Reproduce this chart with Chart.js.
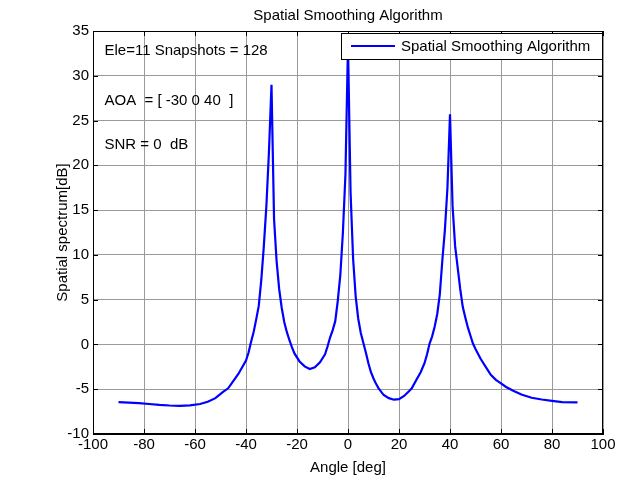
<!DOCTYPE html>
<html>
<head>
<meta charset="utf-8" />
<title>Spatial Smoothing Algorithm</title>
<script src="https://cdn.jsdelivr.net/npm/chart.js@4.4.0/dist/chart.umd.min.js"></script>
<style>
  html, body { margin: 0; padding: 0; background: #fff; }
  #wrap { width: 626px; height: 480px; }
</style>
</head>
<body>
<div id="wrap"><canvas id="spectrum" width="626" height="480"></canvas></div>
<script>
// angle grid (deg) and spectrum (dB)
var angles = [-90, -86, -82, -78, -74, -70, -66, -62, -58, -55, -52, -49, -47, -45, -43, -41, -40, -39, -38, -37,
  -36, -35, -34, -33, -32, -31, -30, -29, -28, -27, -26, -25, -24, -23, -22, -21, -19, -17, -15, -13,
  -11, -9, -8, -7, -6, -5, -4, -3, -2, -1, 0, 1, 2, 3, 4, 5, 6, 7, 8, 9,
  10, 11, 12, 14, 16, 18, 20, 22, 24, 25, 27, 28.5, 30, 31, 32, 33, 34, 35, 36, 37,
  38, 39, 40, 41, 42, 43, 44, 45, 46, 47, 48, 49, 50, 52, 54, 56, 58, 60, 62, 65,
  68, 72, 76, 80, 84, 90];
var spectrum = [-6.45, -6.5, -6.55, -6.65, -6.75, -6.82, -6.85, -6.8, -6.65, -6.4, -6.0, -5.3, -4.9, -4.1, -3.3, -2.3, -1.8, -0.9, 0.3, 1.4,
  2.8, 4.3, 7.2, 11, 15.5, 21.5, 29.0, 14, 9.3, 6.2, 4.1, 2.5, 1.4, 0.5, -0.3, -1.0, -1.9, -2.45, -2.75, -2.55,
  -2.0, -1.1, -0.2, 0.8, 1.6, 2.6, 4.9, 7.8, 12.5, 19, 33.5, 17, 9.6, 5.4, 2.9, 1.3, 0.2, -0.9, -2.1, -3.1,
  -3.8, -4.4, -4.9, -5.65, -6.0, -6.17, -6.1, -5.75, -5.2, -4.9, -3.85, -3.1, -2.1, -1.1, 0.1, 0.9, 2.0, 3.4, 5.6, 9.4,
  12.8, 17.5, 25.7, 15.5, 11, 8.6, 6.2, 4.2, 3.0, 1.9, 1.0, 0.1, -0.5, -1.6, -2.5, -3.4, -3.95, -4.35, -4.75, -5.2,
  -5.6, -5.95, -6.15, -6.3, -6.45, -6.47];

var xTicks = [-100, -80, -60, -40, -20, 0, 20, 40, 60, 80, 100];
var yTicks = [-10, -5, 0, 5, 10, 15, 20, 25, 30, 35];

var seriesName = "Spatial Smoothing Algorithm";
var notes = [
  { text: "Ele=11 Snapshots = 128", x: -95.5, y: 32.8 },
  { text: "AOA  = [ -30 0 40  ]", x: -95.5, y: 27.2 },
  { text: "SNR = 0  dB", x: -95.5, y: 22.3 }
];

var FONT = "'Liberation Sans', Arial, sans-serif";
var points = [];
for (var i = 0; i < angles.length; i++) {
  points.push({ x: angles[i], y: spectrum[i] });
}

// box, inward ticks, text notes and legend drawn on top like matlab does
var matlabBox = {
  id: "matlabBox",
  afterDraw: function (chart) {
    var ctx = chart.ctx;
    var a = chart.chartArea;
    var xs = chart.scales.x, ys = chart.scales.y;
    ctx.save();

    ctx.fillStyle = "#000";
    ctx.font = "15px " + FONT;
    ctx.textAlign = "left";
    ctx.textBaseline = "middle";
    notes.forEach(function (n) {
      ctx.fillText(n.text, xs.getPixelForValue(n.x), ys.getPixelForValue(n.y));
    });

    ctx.strokeStyle = "#000";
    ctx.lineWidth = 1;
    ctx.beginPath();
    xTicks.forEach(function (v) {
      var px = Math.round(xs.getPixelForValue(v)) + 0.5;
      ctx.moveTo(px, a.bottom); ctx.lineTo(px, a.bottom - 5);
      ctx.moveTo(px, a.top); ctx.lineTo(px, a.top + 5);
    });
    yTicks.forEach(function (v) {
      var py = Math.round(ys.getPixelForValue(v)) + 0.5;
      ctx.moveTo(a.left, py); ctx.lineTo(a.left + 5, py);
      ctx.moveTo(a.right, py); ctx.lineTo(a.right - 5, py);
    });
    ctx.stroke();
    ctx.strokeRect(Math.round(a.left) + 0.5, Math.round(a.top) + 0.5,
      Math.round(a.right - a.left) - 1, Math.round(a.bottom - a.top) - 1);

    // legend
    var lx = 341, ly = 33, lw = 261, lh = 26;
    ctx.fillStyle = "#fff";
    ctx.fillRect(lx, ly, lw, lh);
    ctx.strokeRect(lx + 0.5, ly + 0.5, lw, lh);
    ctx.strokeStyle = "#0000ff";
    ctx.lineWidth = 2.2;
    ctx.beginPath();
    ctx.moveTo(351, ly + 13); ctx.lineTo(395, ly + 13);
    ctx.stroke();
    ctx.fillStyle = "#000";
    ctx.font = "15px " + FONT;
    ctx.fillText(seriesName, 401, ly + 14);
    ctx.restore();
  }
};

var ctx = document.getElementById("spectrum").getContext("2d");
var chart = new Chart(ctx, {
  type: "line",
  data: {
    datasets: [{
      label: seriesName,
      data: points,
      borderColor: "#0000ff",
      backgroundColor: "#0000ff",
      borderWidth: 2.2,
      pointRadius: 0,
      tension: 0,
      fill: false
    }]
  },
  options: {
    responsive: false,
    animation: false,
    layout: { padding: { left: 48, right: 23, top: 0, bottom: 0 } },
    plugins: {
      legend: { display: false },
      tooltip: { enabled: false },
      title: {
        display: true,
        fullSize: false,
        text: "Spatial Smoothing Algorithm",
        color: "#000",
        font: { family: FONT, size: 15, weight: "normal" },
        padding: { top: 7, bottom: 6 }
      }
    },
    scales: {
      x: {
        type: "linear",
        min: -100,
        max: 100,
        afterBuildTicks: function (s) { s.ticks = xTicks.map(function (v) { return { value: v }; }); },
        afterFit: function (s) { s.height = 46; },
        ticks: { color: "#000", padding: 2, font: { family: FONT, size: 15 }, maxRotation: 0 },
        grid: { color: "#9a9a9a", lineWidth: 1, drawTicks: false },
        border: { color: "#000" },
        title: {
          display: true,
          text: "Angle [deg]",
          color: "#000",
          font: { family: FONT, size: 15 },
          padding: { top: 0, bottom: 3 }
        }
      },
      y: {
        type: "linear",
        min: -10,
        max: 35,
        afterBuildTicks: function (s) { s.ticks = yTicks.map(function (v) { return { value: v }; }); },
        afterFit: function (s) { s.width = 45; },
        ticks: { color: "#000", padding: 4, font: { family: FONT, size: 15 } },
        grid: { color: "#9a9a9a", lineWidth: 1, drawTicks: false },
        border: { color: "#000" },
        title: {
          display: true,
          text: "Spatial spectrum[dB]",
          color: "#000",
          font: { family: FONT, size: 15 },
          padding: { top: 6, bottom: 0 }
        }
      }
    }
  },
  plugins: [matlabBox]
});
</script>
</body>
</html>
